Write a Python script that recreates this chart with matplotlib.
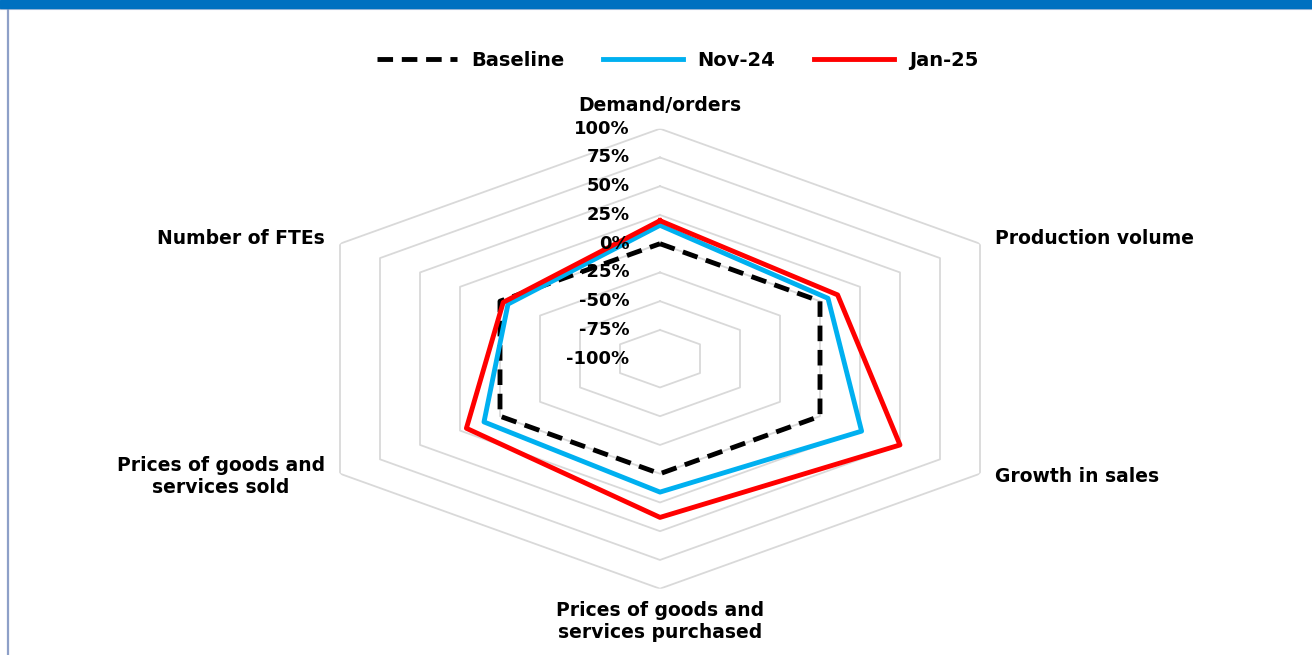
import numpy as np
import matplotlib
matplotlib.use("Agg")
import matplotlib.pyplot as plt
from matplotlib.patches import Rectangle
from matplotlib.lines import Line2D

categories = ["Demand/orders", "Production volume", "Growth in sales",
              "Prices of goods and\nservices purchased",
              "Prices of goods and\nservices sold", "Number of FTEs"]
baseline = [0.0, 0.0, 0.0, 0.0, 0.0, 0.0]
nov24 = [0.16, 0.05, 0.26, 0.16, 0.10, -0.05]
jan25 = [0.20, 0.11, 0.50, 0.38, 0.21, -0.02]
series_names = ["Baseline", "Nov-24", "Jan-25"]
ring_levels = [-0.75, -0.5, -0.25, 0.0, 0.25, 0.5, 0.75, 1.0]
tick_levels = [-1.0, -0.75, -0.5, -0.25, 0.0, 0.25, 0.5, 0.75, 1.0]

W, H = 1312, 655
fig = plt.figure(figsize=(W / 100, H / 100), dpi=100)
plt.rcParams['font.family'] = ['DejaVu Sans']

# axes box (stretched hexagon like the reference)
cx, cy = 660, 358.7
rx, ry = 369.5, 230
ax = fig.add_axes([(cx - rx) / W, (H - cy - ry) / H, 2 * rx / W, 2 * ry / H],
                  projection='polar')
ax.set_aspect('auto')
ax.set_theta_offset(np.pi / 2)
ax.set_theta_direction(-1)
ax.set_rlim(-1, 1)
ax.grid(False)
ax.set_xticks([])
ax.set_yticks([])
ax.spines['polar'].set_visible(False)
ax.patch.set_visible(False)

n = len(categories)
theta = np.arange(n) * 2 * np.pi / n
theta_c = np.append(theta, theta[0])

for lv in ring_levels:
    ax.plot(theta_c, [lv] * (n + 1), color='#D9D9D9', lw=1.3, zorder=1)

def closed(v):
    return list(v) + [v[0]]

ax.plot(theta_c, closed(baseline), color='black', lw=3.5, ls=(0, (3.2, 1.8)),
        zorder=3, label=series_names[0])
ax.plot(theta_c, closed(nov24), color='#00B0F0', lw=3.5, zorder=4,
        label=series_names[1])
ax.plot(theta_c, closed(jan25), color='#FF0000', lw=3.5, zorder=5,
        label=series_names[2])

# radial tick labels
for lv in tick_levels:
    ax.annotate(f"{int(round(lv * 100))}%", xy=(0, lv), xytext=(-22, 0),
                textcoords='offset points', ha='right', va='center',
                fontsize=13, fontweight='bold', color='black', zorder=6)

# category labels
pt = 72 / 100
label_cfg = [
    ((0, 23), 'center', 'center'),
    ((15, 5), 'left', 'center'),
    ((15, -3), 'left', 'center'),
    ((0, -32.5), 'center', 'center'),
    ((-15, -3), 'right', 'center'),
    ((-15, 5), 'right', 'center'),
]
for t, lab, (off, ha, va) in zip(theta, categories, label_cfg):
    ax.annotate(lab, xy=(t, 1.0), xytext=(off[0] * pt, off[1] * pt),
                textcoords='offset points', ha=ha, va=va, multialignment='center',
                fontsize=13.5, fontweight='bold', color='black',
                linespacing=1.2)

# legend
handles, labels = ax.get_legend_handles_labels()
fig.legend(handles, labels, loc='center', bbox_to_anchor=(677.5 / W, 1 - 60 / H),
           ncol=3, frameon=False, handlelength=4.1, handletextpad=0.75,
           columnspacing=2.0, prop={'weight': 'bold', 'size': 14})

# decorations: header bar and left border
fig.patches.append(Rectangle((0, 1 - 8 / H), 1, 8 / H, transform=fig.transFigure,
                             color='#0070C0', zorder=10))
fig.lines.append(Line2D([0, 1], [1 - 8.5 / H, 1 - 8.5 / H], transform=fig.transFigure,
                        color='#B8C4DC', lw=0.8))
fig.lines.append(Line2D([8 / W, 8 / W], [0, 1 - 8 / H], transform=fig.transFigure,
                        color='#8EA0C8', lw=1.6))

fig.savefig('out.png', dpi=100, facecolor='white')
